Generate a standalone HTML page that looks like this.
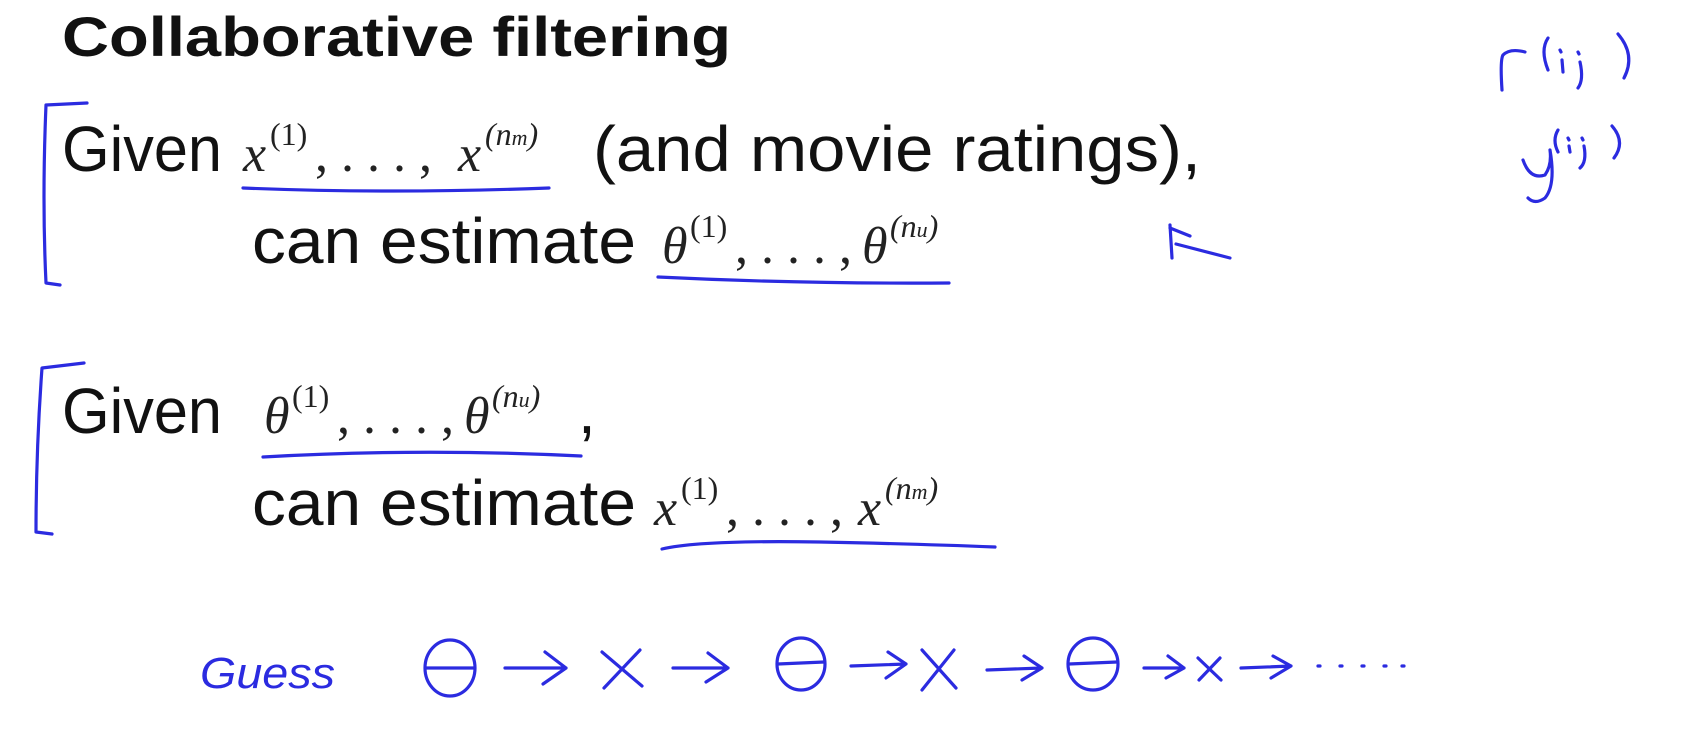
<!DOCTYPE html>
<html><head><meta charset="utf-8"><style>
html,body{margin:0;padding:0;background:#fff;}
svg{display:block;}
.t{font-family:"Liberation Sans",sans-serif;fill:#111;}
.m{font-family:"Liberation Serif",serif;font-style:italic;fill:#222;}
.b{fill:none;stroke:#2b2be0;stroke-width:3.2;stroke-linecap:round;stroke-linejoin:round;}
.h{font-family:"Liberation Sans",sans-serif;fill:#2b2be0;}
</style></head><body>
<svg width="1697" height="740" viewBox="0 0 1697 740">
<text class="t" x="62" y="56" font-size="56" font-weight="bold" textLength="669" lengthAdjust="spacingAndGlyphs">Collaborative filtering</text>

<!-- line 1 -->
<text class="t" x="62" y="171" font-size="64" textLength="160" lengthAdjust="spacingAndGlyphs">Given</text>
<text class="m" x="243" y="171" font-size="52">x</text>
<text class="m" x="270" y="145" font-size="32" style="font-style:normal">(1)</text>
<text class="m" x="315" y="171" font-size="52" style="font-style:normal">, . . . ,</text>
<text class="m" x="458" y="171" font-size="52">x</text>
<text class="m" x="485" y="145" font-size="32">(n<tspan font-size="22">m</tspan>)</text>
<text class="t" x="593" y="171" font-size="64" textLength="608" lengthAdjust="spacingAndGlyphs">(and movie ratings),</text>
<path class="b" d="M243 188 Q390 194 549 188"/>

<!-- line 2 -->
<text class="t" x="252" y="263" font-size="64" textLength="384" lengthAdjust="spacingAndGlyphs">can estimate</text>
<text class="m" x="662" y="263" font-size="52">θ</text>
<text class="m" x="690" y="237" font-size="32" style="font-style:normal">(1)</text>
<text class="m" x="735" y="263" font-size="52" style="font-style:normal">, . . . ,</text>
<text class="m" x="862" y="263" font-size="52">θ</text>
<text class="m" x="890" y="237" font-size="32">(n<tspan font-size="22">u</tspan>)</text>
<path class="b" d="M658 277 Q800 284 949 283"/>

<!-- bracket 1 -->
<path class="b" d="M87 103 L46 105 Q42 200 46 283 L60 285"/>

<!-- line 3 -->
<text class="t" x="62" y="433" font-size="64" textLength="160" lengthAdjust="spacingAndGlyphs">Given</text>
<text class="m" x="264" y="433" font-size="52">θ</text>
<text class="m" x="292" y="407" font-size="32" style="font-style:normal">(1)</text>
<text class="m" x="337" y="433" font-size="52" style="font-style:normal">, . . . ,</text>
<text class="m" x="464" y="433" font-size="52">θ</text>
<text class="m" x="492" y="407" font-size="32">(n<tspan font-size="22">u</tspan>)</text>
<text class="t" x="578" y="433" font-size="64">,</text>
<path class="b" d="M263 457 Q420 448 581 456"/>

<!-- line 4 -->
<text class="t" x="252" y="525" font-size="64" textLength="384" lengthAdjust="spacingAndGlyphs">can estimate</text>
<text class="m" x="654" y="525" font-size="52">x</text>
<text class="m" x="681" y="499" font-size="32" style="font-style:normal">(1)</text>
<text class="m" x="726" y="525" font-size="52" style="font-style:normal">, . . . ,</text>
<text class="m" x="858" y="525" font-size="52">x</text>
<text class="m" x="885" y="499" font-size="32">(n<tspan font-size="22">m</tspan>)</text>
<path class="b" d="M662 549 Q700 540 820 542 Q920 544 995 547"/>

<!-- bracket 2 -->
<path class="b" d="M84 363 L42 368 Q36 450 36 532 L52 534"/>

<!-- handwriting top right -->
<path class="b" d="M1502 90 Q1500 60 1503 55 Q1510 48 1525 52"/>
<path class="b" d="M1548 38 Q1540 50 1548 70"/>
<path class="b" d="M1560 50 L1561 52 M1562 60 L1563 72"/>
<path class="b" d="M1578 52 L1579 54 M1580 62 Q1584 80 1578 88"/>
<path class="b" d="M1618 34 Q1636 55 1624 78"/>
<path class="b" d="M1523 160 Q1530 180 1545 175 Q1552 165 1550 150 Q1556 185 1545 198 Q1535 205 1528 198"/>
<path class="b" d="M1558 130 Q1552 140 1558 152"/>
<path class="b" d="M1568 138 L1569 140 M1569 146 L1570 152"/>
<path class="b" d="M1582 138 L1583 140 M1584 146 Q1587 162 1580 168"/>
<path class="b" d="M1612 126 Q1626 142 1614 158"/>
<path class="b" d="M1172 258 L1170 225 M1170 228 L1190 236 M1176 244 L1230 258"/>

<!-- guess row -->
<text class="h" x="200" y="688" font-size="44" font-style="italic" textLength="135" lengthAdjust="spacingAndGlyphs">Guess</text>
<g class="b">
<ellipse cx="450" cy="668" rx="25" ry="28"/><path d="M426 668 L474 668"/>
<path d="M505 668 L566 668 M545 652 L566 668 L543 684"/>
<path d="M602 652 L642 686 M640 650 L604 688"/>
<path d="M673 668 L728 668 M708 653 L728 668 L706 682"/>
<ellipse cx="801" cy="664" rx="24" ry="26"/><path d="M778 664 L824 662"/>
<path d="M851 666 L906 664 M888 652 L906 664 L886 678"/>
<path d="M922 650 L956 688 M954 650 L922 690"/>
<path d="M987 670 L1042 668 M1024 656 L1042 668 L1022 680"/>
<ellipse cx="1093" cy="664" rx="25" ry="26"/><path d="M1069 664 L1117 662"/>
<path d="M1144 668 L1184 668 M1168 656 L1184 668 L1166 678"/>
<path d="M1198 658 L1221 680 M1220 658 L1199 680"/>
<path d="M1241 668 L1291 666 M1273 656 L1291 666 L1271 678"/>
<path d="M1318 666 L1320 666 M1340 666 L1342 666 M1362 666 L1364 666 M1384 666 L1386 666 M1402 666 L1404 666"/>
</g>
</svg>
</body></html>
